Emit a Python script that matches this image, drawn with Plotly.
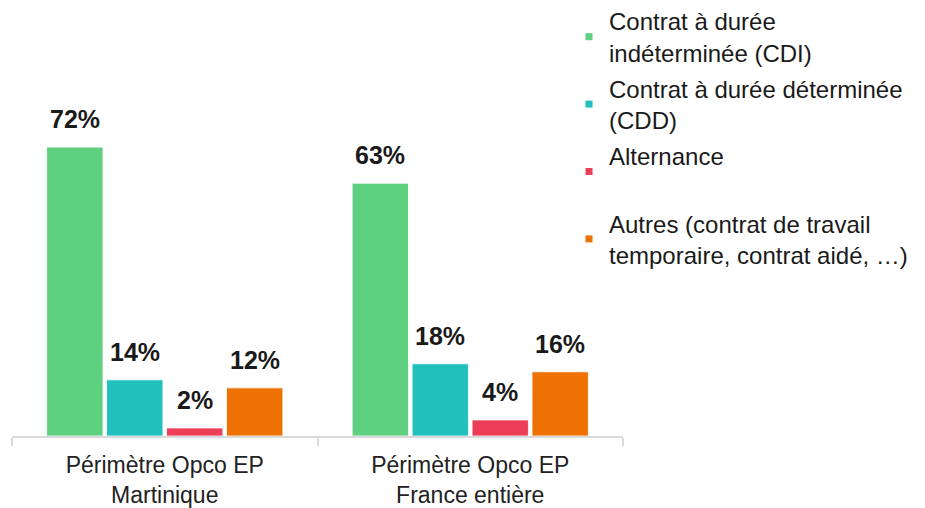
import plotly.graph_objects as go

categories = ["Périmètre Opco EP<br>Martinique", "Périmètre Opco EP<br>France entière"]
series_names = [
    "Contrat à durée<br>indéterminée (CDI)",
    "Contrat à durée déterminée<br>(CDD)",
    "Alternance<br> ",
    "Autres (contrat de travail<br>temporaire, contrat aidé, …)",
]
cdi = [72, 63]
cdd = [14, 18]
alternance = [2, 4]
autres = [12, 16]
series_values = [cdi, cdd, alternance, autres]
colors = ["#5FCF80", "#21C0BC", "#EC3E58", "#EE7203"]

FONT = "Liberation Sans, Arial, sans-serif"
BARGAP = 0.215
BARGROUPGAP = 0.06

fig = go.Figure()
for name, vals, col in zip(series_names, series_values, colors):
    fig.add_trace(go.Bar(
        x=categories, y=vals, name=name, showlegend=False,
        marker=dict(color=col, line=dict(color="white", width=0.8)),
        hoverinfo="skip",
    ))
# legend entries with small square markers
for k, (name, col) in enumerate(zip(series_names, colors)):
    fig.add_trace(go.Scatter(
        x=[None], y=[None], mode="markers", name=name, legendgroup=f"g{k}",
        marker=dict(symbol="square", size=7, color=col),
    ))

# value labels above bars
slot = (1 - BARGAP) / len(series_values)
for k, vals in enumerate(series_values):
    for i, v in enumerate(vals):
        xpos = i - 0.5 + BARGAP / 2 + slot * (k + 0.5)
        fig.add_annotation(
            x=xpos, y=v, xref="x", yref="y", text=f"<b>{v}%</b>",
            showarrow=False, yanchor="bottom", yshift=12,
            font=dict(family=FONT, size=25, color="#1a1a1a"),
        )

fig.update_layout(
    width=925, height=508,
    margin=dict(l=4, r=310, t=107, b=80, autoexpand=False),
    paper_bgcolor="white", plot_bgcolor="white",
    barmode="group", bargap=BARGAP, bargroupgap=BARGROUPGAP,
    font=dict(family=FONT, size=24, color="#222222"),
    legend=dict(
        xref="container", yref="paper", x=0.6065, y=1.3614,
        xanchor="left", yanchor="top",
        font=dict(family=FONT, size=24, color="#1a1a1a"),
        tracegroupgap=2, itemwidth=30, bgcolor="rgba(0,0,0,0)",
        maxheight=500,
    ),
    showlegend=True,
)
fig.update_xaxes(
    showline=True, linecolor="#d9d9d9", linewidth=2,
    ticks="outside", tickson="boundaries", ticklen=8, tickwidth=2, tickcolor="#d9d9d9",
    tickfont=dict(family=FONT, size=23, color="#222222"),
    ticklabelstandoff=7, automargin=False,
    showgrid=False, zeroline=False,
)
fig.update_yaxes(range=[0, 80], visible=False, showgrid=False, zeroline=False)

fig.write_html("out.html")
